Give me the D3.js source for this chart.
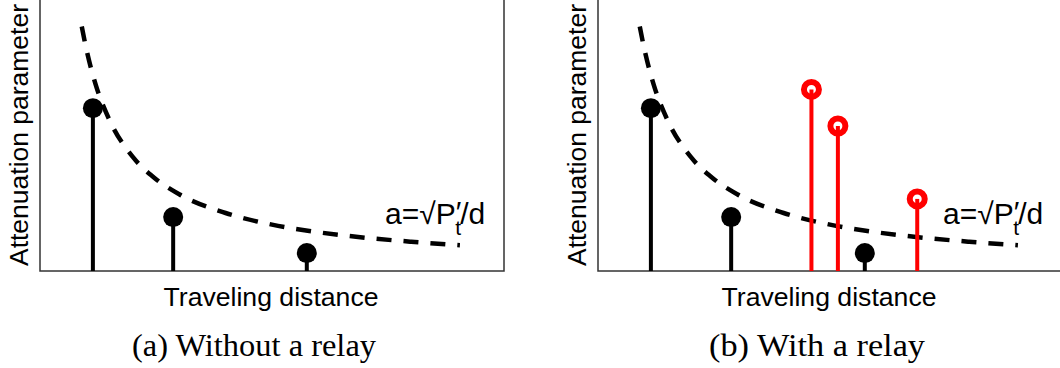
<!DOCTYPE html>
<html>
<head>
<meta charset="utf-8">
<script src="https://cdn.jsdelivr.net/npm/d3@7"></script>
<style>
  body { margin: 0; background: #fff; }
  text { font-family: "Liberation Sans", Arial, sans-serif; fill: #000; }
  .caption { font-family: "Liberation Serif", "DejaVu Serif", serif; }
</style>
</head>
<body>
<div id="chart"></div>
<script>
// curve a = sqrt(P't)/d
var curveD = [0.9, 1.0, 1.2, 1.5, 2.0, 2.5, 3.0, 4.0, 5.0, 6.0, 7.0, 8.0, 9.05];
var curveA = [9.02, 8.18, 6.88, 5.56, 4.21, 3.39, 2.83, 2.14, 1.71, 1.43, 1.23, 1.08, 0.95];

// nodes (black) and relay transmissions (red)
var nodeD = [1.14, 2.87, 5.75];
var nodeA = [6.01, 1.99, 0.66];
var relayD = [4.6, 5.17, 6.88];
var relayA = [6.70, 5.35, 2.66];

var panels = [
  { left: 40, caption: "(a) Without a relay", capX: 214, capW: 244, relay: false },
  { left: 598, caption: "(b) With a relay", capX: 219, capW: 216, relay: true }
];

var outerWidth = 1060,
    outerHeight = 368,
    plotW = 464,
    plotTop = -2,
    plotBottom = 271;

var svg = d3.select("#chart").append("svg")
    .attr("width", outerWidth)
    .attr("height", outerHeight);

var x = d3.scaleLinear().domain([0, 10]).range([0, plotW]);
var y = d3.scaleLinear().domain([0, 10]).range([plotBottom, plotBottom - 271]);

var curvePts = curveD.map((d, i) => [d, curveA[i]]);
var line = d3.line()
    .x(d => x(d[0]))
    .y(d => y(d[1]))
    .curve(d3.curveMonotoneX);

panels.forEach(function(p) {
  var g = svg.append("g")
      .attr("transform", "translate(" + p.left + ",0)");

  // frame
  g.append("rect")
      .attr("x", 0)
      .attr("y", plotTop)
      .attr("width", plotW)
      .attr("height", plotBottom - plotTop)
      .attr("fill", "none")
      .attr("stroke", "#333")
      .attr("stroke-width", 1.5);

  // dashed attenuation curve
  g.append("path")
      .datum(curvePts)
      .attr("d", line)
      .attr("fill", "none")
      .attr("stroke", "#000")
      .attr("stroke-width", 4.5)
      .attr("stroke-dasharray", "15,12");

  var nodes = nodeD.map((d, i) => ({ d: d, a: nodeA[i] }));

  g.append("g")
      .selectAll("line")
      .data(nodes)
    .enter().append("line")
      .attr("x1", d => x(d.d))
      .attr("x2", d => x(d.d))
      .attr("y1", plotBottom)
      .attr("y2", d => y(d.a))
      .attr("stroke", "#000")
      .attr("stroke-width", 4);

  g.append("g")
      .selectAll("circle")
      .data(nodes)
    .enter().append("circle")
      .attr("cx", d => x(d.d))
      .attr("cy", d => y(d.a))
      .attr("r", 10)
      .attr("fill", "#000");

  if (p.relay) {
    var relays = relayD.map((d, i) => ({ d: d, a: relayA[i] }));

    g.append("g")
        .selectAll("circle")
        .data(relays)
      .enter().append("circle")
        .attr("cx", d => x(d.d))
        .attr("cy", d => y(d.a))
        .attr("r", 7.5)
        .attr("fill", "#fff")
        .attr("stroke", "#ff0000")
        .attr("stroke-width", 6);

    g.append("g")
        .selectAll("line")
        .data(relays)
      .enter().append("line")
        .attr("x1", d => x(d.d))
        .attr("x2", d => x(d.d))
        .attr("y1", plotBottom)
        .attr("y2", d => y(d.a))
        .attr("stroke", "#ff0000")
        .attr("stroke-width", 4);
  }

  // formula label: a = sqrt(P'_t)/d
  var f = g.append("text")
      .attr("x", 345)
      .attr("y", 224)
      .attr("font-size", 30);
  f.append("tspan").text("a=\u221AP");
  f.append("tspan").attr("dy", -2).text("\u2032");
  f.append("tspan").attr("dx", -6).attr("dy", 13).attr("font-size", 21).text("t");
  f.append("tspan").attr("dx", -1).attr("dy", -11).text("/d");

  // axis titles
  g.append("text")
      .attr("transform", "translate(-12," + 135 + ") rotate(-90)")
      .attr("text-anchor", "middle")
      .attr("font-size", 26.5)
      .attr("textLength", 262)
      .attr("lengthAdjust", "spacingAndGlyphs")
      .text("Attenuation parameter");

  g.append("text")
      .attr("x", 231)
      .attr("y", 306)
      .attr("text-anchor", "middle")
      .attr("font-size", 26.5)
      .attr("textLength", 215)
      .attr("lengthAdjust", "spacingAndGlyphs")
      .text("Traveling distance");

  g.append("text")
      .attr("class", "caption")
      .attr("x", p.capX)
      .attr("y", 356)
      .attr("text-anchor", "middle")
      .attr("font-size", 31)
      .attr("textLength", p.capW)
      .attr("lengthAdjust", "spacingAndGlyphs")
      .text(p.caption);
});
</script>
</body>
</html>
